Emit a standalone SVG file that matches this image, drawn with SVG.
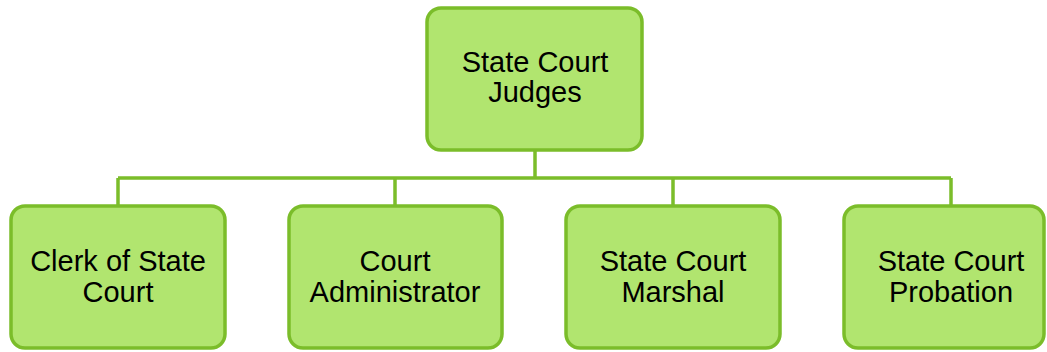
<svg xmlns="http://www.w3.org/2000/svg" width="1047" height="352" viewBox="0 0 1047 352">
<style>
.box{fill:#b1e56f;stroke:#7bbd2a;stroke-width:3.5}
.lbl{font-family:"Liberation Sans",Arial,sans-serif;font-size:29px;fill:#000;text-anchor:middle}
.con{stroke:#7bbd2a;stroke-width:3.5;fill:none}
</style>
<rect width="1047" height="352" fill="#ffffff"/>
<g id="connectors">
<path class="con" d="M535 150V178M118 178H951M118 178V206M395 178V206M673 178V206M951 178V206"/>
</g>
<g id="judges">
<rect class="box" x="427" y="8" width="215" height="142" rx="14"/>
<text class="lbl" x="535" y="72">State Court</text>
<text class="lbl" x="535" y="102">Judges</text>
</g>
<g id="clerk">
<rect class="box" x="11" y="206" width="214" height="142" rx="14"/>
<text class="lbl" x="118" y="271">Clerk of State</text>
<text class="lbl" x="118" y="302">Court</text>
</g>
<g id="admin">
<rect class="box" x="289" y="206" width="213" height="142" rx="14"/>
<text class="lbl" x="395" y="271">Court</text>
<text class="lbl" x="395" y="302">Administrator</text>
</g>
<g id="marshal">
<rect class="box" x="566" y="206" width="214" height="142" rx="14"/>
<text class="lbl" x="673" y="271">State Court</text>
<text class="lbl" x="673" y="302">Marshal</text>
</g>
<g id="probation">
<rect class="box" x="844" y="206" width="200" height="142" rx="14"/>
<text class="lbl" x="951" y="271">State Court</text>
<text class="lbl" x="951" y="302">Probation</text>
</g>
</svg>
